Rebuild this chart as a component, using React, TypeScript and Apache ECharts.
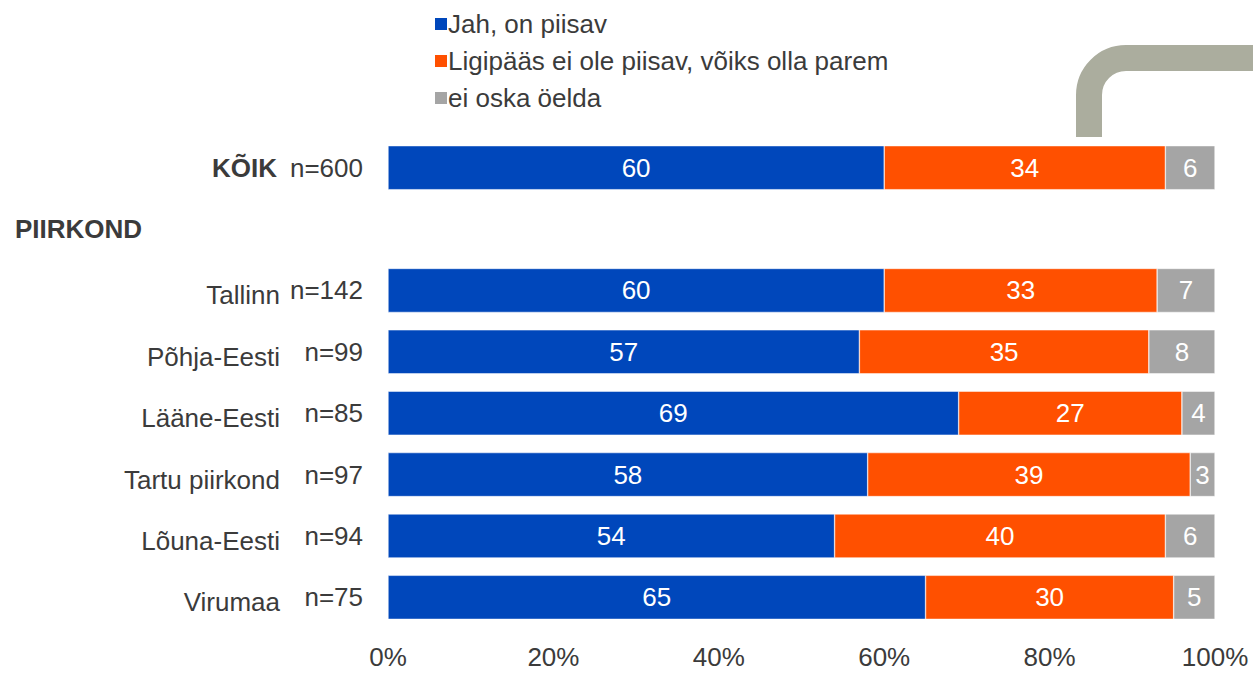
import React, { useEffect, useRef } from "react";
import * as echarts from "echarts";

const categories = ["KÕIK", "PIIRKOND", "Tallinn", "Põhja-Eesti", "Lääne-Eesti", "Tartu piirkond", "Lõuna-Eesti", "Virumaa"];
const sampleSizes = ["n=600", "", "n=142", "n=99", "n=85", "n=97", "n=94", "n=75"];
const seriesNames = ["Jah, on piisav", "Ligipääs ei ole piisav, võiks olla parem", "ei oska öelda"];
const yesValues = [60, null, 60, 57, 69, 58, 54, 65];
const notEnoughValues = [34, null, 33, 35, 27, 39, 40, 30];
const dontKnowValues = [6, null, 7, 8, 4, 3, 6, 5];
const xTicks = [0, 20, 40, 60, 80, 100];
const colors = ["#0047BB", "#FF5000", "#A5A5A5"];

const FONT = "'Liberation Sans', Arial, sans-serif";
const TEXT = "#3b3b3b";
const FS = 26;

export default function App() {
  const ref = useRef<HTMLDivElement>(null);
  useEffect(() => {
    if (!ref.current) return;
    echarts.graphic.registerShape(
      "logo",
      echarts.graphic.extendPath("M0,80 L0,38 A37,37 0 0 1 37,1 L170,1", {})
    );
    const chart = echarts.init(ref.current, null, { renderer: "svg" });
    const values = [yesValues, notEnoughValues, dontKnowValues];
    chart.setOption({
      animation: false,
      textStyle: { fontFamily: FONT },
      legend: {
        orient: "vertical",
        left: 428,
        top: 6,
        itemWidth: 14,
        itemHeight: 14,
        itemGap: 11,
        icon: "rect",
        textStyle: { fontSize: FS, color: TEXT, fontFamily: FONT, padding: [0, 0, 0, -5] },
        data: seriesNames,
      },
      graphic: [
        {
          type: "logo",
          x: 1089,
          y: 57,
          silent: true,
          style: { fill: "none", stroke: "#ABAD9E", lineWidth: 26 },
        },
      ],
      grid: { left: 388, right: 38, top: 137, height: 491 },
      xAxis: {
        type: "value",
        min: 0,
        max: 100,
        interval: 20,
        splitLine: { show: false },
        axisLine: { show: false },
        axisTick: { show: false },
        axisLabel: {
          fontSize: FS,
          color: TEXT,
          margin: 16,
          fontFamily: FONT,
          formatter: (v: number) => (xTicks.includes(v) ? v + "%" : ""),
        },
      },
      yAxis: [
        {
          type: "category",
          data: categories,
          inverse: true,
          axisLine: { show: false },
          axisTick: { show: false },
          axisLabel: {
            fontSize: FS,
            color: TEXT,
            margin: 25,
            fontFamily: FONT,
            formatter: (_v: string, i: number) => sampleSizes[i],
          },
        },
        {
          type: "category",
          data: categories,
          inverse: true,
          position: "left",
          axisLine: { show: false },
          axisTick: { show: false },
          axisLabel: {
            margin: 108,
            formatter: (v: string, i: number) => {
              if (i === 0) return "{b|" + v + "}";
              if (v === "PIIRKOND") return "{h|" + v + "}";
              return "{r|" + v + "}";
            },
            rich: {
              b: { fontSize: FS, fontWeight: "bold", color: TEXT, fontFamily: FONT, padding: [0, 3, 0, 0] },
              h: { fontSize: FS, fontWeight: "bold", color: TEXT, fontFamily: FONT, width: 265, align: "left" },
              r: { fontSize: FS, color: TEXT, fontFamily: FONT, padding: [10, 0, 0, 0] },
            },
          },
        },
      ],
      series: seriesNames.map((name, k) => ({
        name,
        type: "bar",
        stack: "total",
        yAxisIndex: 0,
        barWidth: 44,
        data: values[k],
        itemStyle: { color: colors[k], borderColor: "#ffffff", borderWidth: 0.5 },
        label: {
          show: true,
          position: "inside",
          color: "#ffffff",
          fontSize: FS,
          fontFamily: FONT,
        },
      })),
    });
    return () => chart.dispose();
  }, []);
  return (
    <div
      ref={ref}
      style={{ position: "absolute", left: 0, top: 0, width: 1253, height: 673 }}
    />
  );
}
